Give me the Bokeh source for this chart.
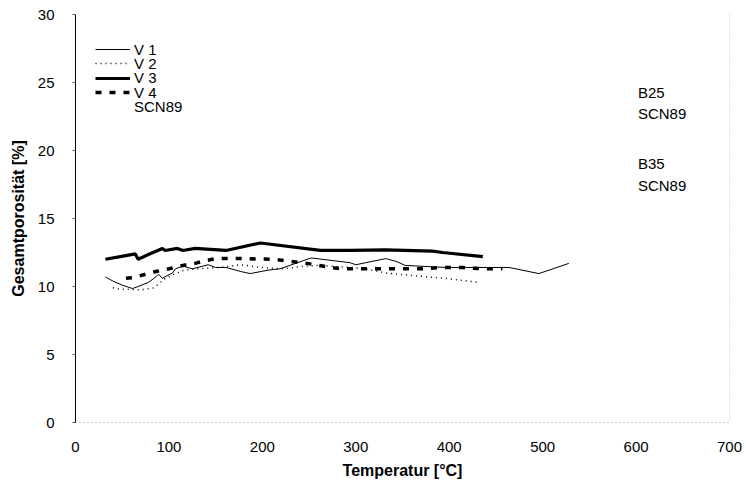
from bokeh.plotting import figure
from bokeh.models import Legend, LegendItem, Span, Range1d, FixedTicker, ColumnDataSource
from bokeh.core.properties import value
from bokeh.embed import file_html
from bokeh.resources import INLINE

# ---- data ----
v1_x = [32, 40, 50, 61, 67, 78, 84, 89, 93, 98, 104, 107, 115, 125, 142, 150, 161, 177, 187, 206, 219, 252, 294, 300, 332, 343, 353, 396, 464, 496, 528]
v1_y = [10.7, 10.4, 10.1, 9.85, 10.0, 10.3, 10.6, 10.9, 10.6, 10.8, 11.0, 11.3, 11.5, 11.3, 11.6, 11.4, 11.4, 11.1, 10.95, 11.2, 11.3, 12.1, 11.75, 11.6, 12.05, 11.85, 11.55, 11.4, 11.4, 10.95, 11.7]

v2_x = [40, 48, 57, 67, 75, 84, 96, 107, 116, 128, 155, 177, 198, 219, 230, 244, 262, 294, 310, 332, 361, 396, 431]
v2_y = [9.9, 9.8, 9.8, 9.75, 9.8, 9.9, 10.6, 10.95, 11.2, 11.3, 11.4, 11.6, 11.4, 11.3, 11.35, 11.5, 11.55, 11.4, 11.3, 11.0, 10.8, 10.6, 10.3]

v3_x = [32, 48, 64, 67, 78, 93, 96, 109, 115, 128, 161, 198, 262, 294, 332, 382, 393, 436]
v3_y = [12.0, 12.2, 12.4, 12.0, 12.35, 12.8, 12.65, 12.8, 12.65, 12.8, 12.65, 13.2, 12.65, 12.65, 12.7, 12.6, 12.5, 12.2]

v4_x = [54, 62, 75, 86, 100, 115, 128, 139, 150, 161, 180, 212, 248, 273, 284, 324, 350, 372, 393, 414, 436, 457]
v4_y = [10.6, 10.65, 10.9, 11.1, 11.3, 11.55, 11.7, 11.9, 12.05, 12.05, 12.05, 12.0, 11.7, 11.4, 11.3, 11.3, 11.3, 11.3, 11.4, 11.4, 11.3, 11.3]

series_labels = ["V 1", "V 2", "V 3", "V 4", "SCN89"]
x_ticks = [0, 100, 200, 300, 400, 500, 600, 700]
y_ticks = [0, 5, 10, 15, 20, 25, 30]

annot_text = ["B25", "SCN89", "B35", "SCN89"]
annot_x = [602, 602, 602, 602]
annot_y = [24.3, 22.75, 19.05, 17.45]

FONT = "Liberation Sans"

p = figure(width=746, height=487, output_backend="svg", toolbar_location=None,
           x_range=Range1d(0, 700), y_range=Range1d(0, 30),
           min_border_left=75, min_border_right=17, min_border_top=14, min_border_bottom=65)
p.outline_line_color = None
p.grid.visible = False
p.background_fill_color = "white"
p.border_fill_color = "white"

r1 = p.line(v1_x, v1_y, line_color="black", line_width=1)
r2 = p.line(v2_x, v2_y, line_color="black", line_width=1.5, line_dash="1 4")
r3 = p.line(v3_x, v3_y, line_color="black", line_width=3.2)
r4 = p.line(v4_x, v4_y, line_color="black", line_width=3.5, line_dash="6 8")
r5 = p.line([], [], line_color="black", line_alpha=0)
renderers = [r1, r2, r3, r4, r5]

src = ColumnDataSource(dict(x=annot_x, y=annot_y, t=annot_text))
p.text("x", "y", text="t", source=src, text_font=value(FONT), text_font_size="15px",
       text_baseline="middle", text_align="left", text_color="black")

p.add_layout(Span(location=700, dimension="height", line_color="#8a8a8a",
                  line_dash="1 2", line_width=1))

# axes
p.xaxis.ticker = FixedTicker(ticks=x_ticks)
p.yaxis.ticker = FixedTicker(ticks=y_ticks)
for ax in (p.xaxis[0], p.yaxis[0]):
    ax.major_label_text_font = FONT
    ax.major_label_text_font_size = "15px"
    ax.major_label_text_color = "black"
    ax.axis_label_text_font = FONT
    ax.axis_label_text_font_size = "16px"
    ax.axis_label_text_font_style = "bold"
    ax.axis_label_text_color = "black"
    ax.minor_tick_line_color = None

p.xaxis.axis_label = "Temperatur [°C]"
p.xaxis.axis_line_color = "#a0a0a0"
p.xaxis.axis_line_dash = "1 3"
p.xaxis.major_tick_line_color = None
p.xaxis.major_label_standoff = 13
p.xaxis.axis_label_standoff = 7

p.yaxis.axis_label = "Gesamtporosität [%]"
p.yaxis.axis_line_color = "black"
p.yaxis.major_tick_in = 0
p.yaxis.major_tick_out = 3
p.yaxis.major_tick_line_color = "#555555"
p.yaxis.major_label_standoff = 18
p.yaxis.axis_label_standoff = 8

# one legend per row, so the row spacing matches the reference
row_centers_px = [50.5, 64.5, 79, 93.5, 108]   # page y of each legend row
frame_top, frame_h, item_h = 14, 408, 14
for lab, r, cy in zip(series_labels, renderers, row_centers_px):
    vy = frame_h - (cy - frame_top + item_h / 2)
    lg = Legend(items=[LegendItem(label=lab, renderers=[r])],
                location=(20, vy), orientation="vertical",
                glyph_width=35, glyph_height=item_h, label_height=item_h, spacing=0,
                padding=0, margin=0, label_standoff=4,
                label_text_font=FONT, label_text_font_size="15px",
                label_text_color="black", label_text_line_height=0.9,
                border_line_color=None, background_fill_alpha=0)
    p.add_layout(lg)

open("out.html", "w").write(file_html(p, INLINE))
